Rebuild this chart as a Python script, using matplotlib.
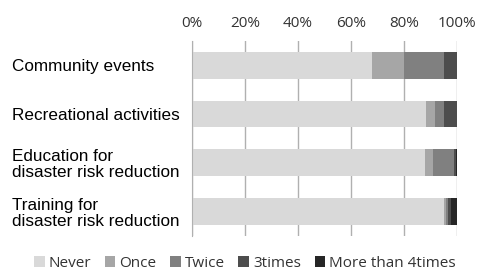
import numpy as np
import matplotlib.pyplot as plt

# categories, top to bottom
cats = ['Community events', 'Recreational activities',
        'Education for\ndisaster risk reduction', 'Training for\ndisaster risk reduction']
series = ['Never', 'Once', 'Twice', '3times', 'More than 4times']

# percentages
never = [68.1, 88.3, 88.0, 95.0]
once = [11.9, 3.5, 2.9, 0.8]
twice = [15.0, 3.2, 8.1, 0.8]
three = [5.0, 5.0, 0.6, 1.3]
more4 = [0.0, 0.0, 0.4, 2.1]

colors = ['#d9d9d9', '#a6a6a6', '#808080', '#4d4d4d', '#262626']

fig = plt.figure(figsize=(4.8, 2.75), dpi=100)
ax = fig.add_axes([0.4, 0.142, 0.552, 0.709])

y = np.arange(len(cats))
left = np.zeros(len(cats))
for name, vals, c in zip(series, [never, once, twice, three, more4], colors):
    ax.barh(y, vals, left=left, height=0.55, color=c, label=name, zorder=2)
    left += np.array(vals)

ax.set_xlim(0, 100)
ax.set_ylim(len(cats) - 0.5, -0.5)
ax.set_xticks(np.arange(0, 101, 20))
ax.set_xticklabels([f'{v}%' for v in range(0, 101, 20)], family='Open Sans', fontsize=11, color='#333333')
ax.xaxis.tick_top()
ax.tick_params(axis='x', length=0, pad=7)
ax.grid(axis='x', color='#b0b0b0', linewidth=1, zorder=0)

ax.set_yticks(y)
ax.set_yticklabels(cats, family='Liberation Sans', fontsize=12.3, ha='left', linespacing=1.05)
ax.tick_params(axis='y', length=0, pad=129.6)

for s in ['top', 'right', 'bottom']:
    ax.spines[s].set_visible(False)
ax.spines['left'].set_color('#b0b0b0')

leg = fig.legend(loc='lower center', bbox_to_anchor=(0.51, -0.035), ncol=5, frameon=False,
                 prop={'family': 'Open Sans', 'size': 11}, handlelength=0.7, handleheight=0.7,
                 handletextpad=0.25, columnspacing=0.9)
for t in leg.get_texts():
    t.set_color('#333333')

fig.savefig('out.png', dpi=100)
